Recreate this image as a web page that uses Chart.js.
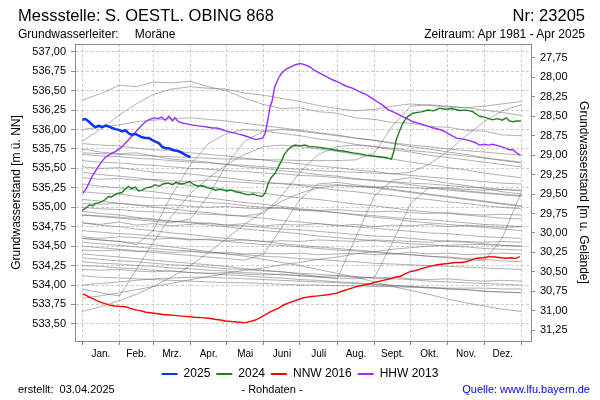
<!DOCTYPE html>
<html>
<head>
<meta charset="utf-8">
<script src="https://cdn.jsdelivr.net/npm/chart.js@4"></script>
<style>
  body { margin: 0; background: #fff; }
  #wrap { position: relative; width: 600px; height: 400px; font-family: 'Liberation Sans', Arial, sans-serif; color: #000; }
  #wrap canvas { position: absolute; left: 0; top: 0; }
  .t { position: absolute; white-space: pre; line-height: 1; }
</style>
</head>
<body>
<div id="wrap">
  <canvas id="chart" width="600" height="400"></canvas>
  <div class="t" style="left:18px;top:7px;font-size:16.5px">Messstelle: S. OESTL. OBING 868</div>
  <div class="t" style="right:15px;top:7px;font-size:16.5px">Nr: 23205</div>
  <div class="t" style="left:18px;top:28px;font-size:12px">Grundwasserleiter:<span style="padding-left:16px">Moräne</span></div>
  <div class="t" style="right:15px;top:28px;font-size:12px">Zeitraum: Apr 1981 - Apr 2025</div>
  <div class="t" style="left:18px;top:384px;font-size:11px">erstellt:  03.04.2025</div>
  <div class="t" style="left:0;width:544px;text-align:center;top:384px;font-size:11px">- Rohdaten -</div>
  <div class="t" style="right:10px;top:384px;font-size:11px;color:#0000ff">Quelle: www.lfu.bayern.de</div>
</div>
<script>
// month labels and month boundaries (day of year)
const monthNames = ['Jan.', 'Feb.', 'Mrz.', 'Apr.', 'Mai', 'Juni', 'Juli', 'Aug.', 'Sept.', 'Okt.', 'Nov.', 'Dez.'];
const monthStarts = [0, 31, 59, 90, 120, 151, 181, 212, 243, 273, 304, 334, 365];

// ground level (m ü. NN) for the right axis
const groundLevel = 564.67;

// 2025 (blue)
const days2025 = [0, 2.7, 5.5, 8.3, 11, 13.8, 16.6, 19.3, 22, 24.9, 27.6, 30.4, 33.2, 35.9, 38.7, 41.5, 44.2, 47, 49.8, 52.5, 55.3, 58, 60.8, 63.6, 66.4, 69.1, 71.9, 74.7, 77.4, 80.2, 83, 85.7, 89.9];
const values2025 = [536.125, 536.134, 536.103, 536.06, 536.03, 536.05, 536.03, 536.05, 536.04, 536.02, 536.005, 535.996, 535.975, 535.99, 535.95, 535.93, 535.945, 535.92, 535.90, 535.89, 535.89, 535.867, 535.845, 535.825, 535.78, 535.76, 535.76, 535.74, 535.73, 535.72, 535.70, 535.675, 535.645];

// 2024 (green)
const days2024 = [0, 3, 6, 9, 11, 14, 17, 19.3, 21.8, 24, 27, 30, 33, 36, 38.4, 41, 44, 47, 49.8, 53, 57, 60.8, 64, 67, 71.6, 75, 78, 82, 85.7, 89, 93, 96.5, 100, 104, 108, 110.6, 115, 120, 124, 127.2, 131, 135, 138, 142, 146, 149.3, 152, 154.6, 157, 160.4, 163, 166, 168, 171, 174, 177, 181, 185, 189, 192, 197, 202, 208.5, 213, 218, 225, 230, 236, 241.6, 247, 252, 257, 259, 261, 264, 266.5, 270, 274.7, 279, 283, 287, 292, 297, 302, 307, 314, 319, 324.6, 328, 330.4, 334, 338, 341, 345, 349, 352.5, 355, 358, 361, 364.5];
const values2024 = [534.96, 534.99, 535.03, 535.02, 535.05, 535.06, 535.08, 535.10, 535.14, 535.13, 535.16, 535.18, 535.19, 535.24, 535.27, 535.24, 535.26, 535.21, 535.22, 535.25, 535.26, 535.29, 535.27, 535.30, 535.31, 535.29, 535.32, 535.30, 535.31, 535.33, 535.29, 535.27, 535.28, 535.25, 535.24, 535.22, 535.23, 535.21, 535.22, 535.20, 535.19, 535.17, 535.16, 535.17, 535.15, 535.14, 535.18, 535.31, 535.38, 535.44, 535.52, 535.61, 535.68, 535.74, 535.78, 535.80, 535.79, 535.80, 535.78, 535.78, 535.77, 535.76, 535.74, 535.73, 535.72, 535.70, 535.69, 535.67, 535.66, 535.65, 535.64, 535.62, 535.72, 535.87, 535.99, 536.08, 536.16, 536.21, 536.22, 536.23, 536.25, 536.24, 536.275, 536.26, 536.27, 536.245, 536.25, 536.23, 536.19, 536.17, 536.16, 536.14, 536.125, 536.14, 536.12, 536.15, 536.11, 536.10, 536.11, 536.11];

// NNW 2016 (red)
const daysNNW = [0.5, 4, 8, 11, 15, 19, 22, 27, 31, 36, 40, 44, 48, 53, 58, 63, 67, 72, 77, 83, 88, 93, 99, 105, 110, 115, 119, 124, 128, 132, 135.5, 139, 144, 148, 152, 157, 163, 167, 171, 177, 182.5, 189, 196, 204, 211.5, 216, 222, 228, 234, 240, 244.7, 250, 256, 260, 264, 268, 272, 278, 284, 289, 295, 300, 305.5, 310, 315, 319, 323, 327.6, 333, 338.6, 343, 348, 352.5, 357, 360, 363.6];
const valuesNNW = [533.885, 533.86, 533.83, 533.81, 533.78, 533.76, 533.745, 533.73, 533.725, 533.72, 533.70, 533.68, 533.67, 533.65, 533.64, 533.63, 533.62, 533.615, 533.61, 533.60, 533.593, 533.585, 533.58, 533.573, 533.56, 533.55, 533.538, 533.53, 533.525, 533.52, 533.516, 533.53, 533.55, 533.58, 533.615, 533.66, 533.70, 533.74, 533.766, 533.80, 533.83, 533.85, 533.86, 533.875, 533.895, 533.92, 533.95, 533.98, 534.00, 534.02, 534.04, 534.06, 534.08, 534.10, 534.11, 534.14, 534.17, 534.19, 534.22, 534.24, 534.26, 534.27, 534.28, 534.29, 534.29, 534.30, 534.32, 534.345, 534.35, 534.365, 534.36, 534.35, 534.345, 534.35, 534.34, 534.365];

// HHW 2013 (purple)
const daysHHW = [0.5, 4, 8, 12, 16, 19, 24, 28, 33, 38, 44, 48, 52.5, 56, 60, 63, 66, 69, 72, 75, 77, 80, 84, 88, 91, 95, 100, 105, 108, 112, 116, 120, 125, 130, 133, 137, 141, 144, 147, 150, 152, 154, 156, 158, 160, 163, 166, 169, 171, 174, 176.5, 179, 181, 183.5, 187, 190, 192, 197, 203, 208, 214, 219, 225, 230, 236, 240, 245, 250, 254, 258, 262, 266, 270, 275, 280, 286, 292, 297, 302, 306, 311, 315, 319, 323, 327, 330, 334, 338, 341, 344, 348, 352, 355, 358, 361, 364];
const valuesHHW = [535.18, 535.26, 535.39, 535.49, 535.58, 535.64, 535.69, 535.72, 535.78, 535.86, 535.96, 536.03, 536.10, 536.13, 536.15, 536.14, 536.16, 536.12, 536.17, 536.11, 536.15, 536.10, 536.08, 536.07, 536.06, 536.05, 536.04, 536.03, 536.02, 536.02, 536.00, 535.98, 535.96, 535.94, 535.93, 535.91, 535.89, 535.87, 535.88, 535.89, 535.95, 536.10, 536.28, 536.38, 536.55, 536.66, 536.73, 536.77, 536.79, 536.81, 536.83, 536.84, 536.85, 536.84, 536.82, 536.80, 536.77, 536.73, 536.68, 536.64, 536.60, 536.56, 536.53, 536.49, 536.45, 536.41, 536.36, 536.31, 536.26, 536.23, 536.20, 536.17, 536.14, 536.10, 536.08, 536.05, 536.02, 536.00, 535.97, 535.93, 535.89, 535.88, 535.87, 535.85, 535.83, 535.80, 535.81, 535.80, 535.81, 535.80, 535.78, 535.76, 535.74, 535.74, 535.70, 535.67];

// other years of the record (grey), sampled about every half month
const grayDays = [0, 15, 31, 45, 59, 74, 90, 105, 120, 135, 151, 166, 181, 196, 212, 227, 243, 258, 273, 288, 304, 319, 334, 349, 365];
const grayYears = [
  [536.38, 536.46, 536.57, 536.55, 536.61, 536.60, 536.62, 536.55, 536.50, 536.40, 536.32, 536.27, 536.28, 536.23, 536.21, 536.15, 536.13, 536.09, 536.08, 536.04, 536.03, 535.99, 535.98, 535.93, 535.92],
  [535.85, 536.00, 536.19, 536.33, 536.45, 536.52, 536.55, 536.53, 536.52, 536.47, 536.44, 536.40, 536.36, 536.31, 536.27, 536.24, 536.26, 536.30, 536.33, 536.31, 536.29, 536.28, 536.30, 536.33, 536.36],
  [536.00, 536.03, 536.06, 536.10, 536.12, 536.14, 536.15, 536.13, 536.11, 536.08, 536.05, 536.02, 535.99, 535.96, 535.93, 535.89, 535.86, 535.82, 535.78, 535.75, 535.71, 535.68, 535.64, 535.60, 535.57],
  [535.82, 535.80, 535.79, 535.76, 535.74, 535.73, 535.70, 535.68, 535.66, 535.63, 535.61, 535.58, 535.56, 535.53, 535.51, 535.48, 535.46, 535.43, 535.41, 535.39, 535.37, 535.35, 535.33, 535.31, 535.30],
  [535.75, 535.71, 535.69, 535.70, 535.66, 535.62, 535.60, 535.58, 535.55, 535.52, 535.50, 535.47, 535.45, 535.42, 535.40, 535.37, 535.34, 535.32, 535.29, 535.26, 535.24, 535.21, 535.19, 535.17, 535.15],
  [535.68, 535.66, 535.65, 535.63, 535.62, 535.60, 535.58, 535.57, 535.55, 535.54, 535.52, 535.50, 535.49, 535.47, 535.46, 535.45, 535.44, 535.43, 535.45, 535.55, 535.72, 535.92, 536.10, 536.24, 536.32],
  [535.60, 535.58, 535.57, 535.55, 535.54, 535.52, 535.50, 535.49, 535.47, 535.46, 535.44, 535.43, 535.41, 535.40, 535.38, 535.36, 535.35, 535.33, 535.31, 535.30, 535.28, 535.26, 535.25, 535.23, 535.22],
  [535.52, 535.50, 535.51, 535.48, 535.45, 535.44, 535.43, 535.40, 535.38, 535.35, 535.33, 535.30, 535.28, 535.25, 535.22, 535.20, 535.17, 535.15, 535.12, 535.10, 535.07, 535.05, 535.02, 535.00, 534.98],
  [535.45, 535.42, 535.40, 535.38, 535.35, 535.31, 535.28, 535.26, 535.23, 535.20, 535.18, 535.15, 535.12, 535.10, 535.07, 535.04, 535.02, 534.99, 534.96, 534.94, 534.92, 534.90, 534.88, 534.86, 534.85],
  [535.38, 535.36, 535.37, 535.35, 535.36, 535.34, 535.33, 535.35, 535.33, 535.32, 535.30, 535.31, 535.29, 535.28, 535.29, 535.27, 535.26, 535.27, 535.25, 535.24, 535.25, 535.23, 535.22, 535.23, 535.21],
  [535.30, 535.27, 535.25, 535.22, 535.20, 535.17, 535.14, 535.12, 535.09, 535.06, 535.04, 535.01, 534.98, 534.96, 534.93, 534.90, 534.87, 534.85, 534.82, 534.80, 534.78, 534.76, 534.74, 534.72, 534.70],
  [535.20, 535.18, 535.17, 535.14, 535.12, 535.11, 535.08, 535.06, 535.05, 535.02, 535.00, 534.99, 534.96, 534.95, 534.93, 534.91, 534.89, 534.87, 534.85, 534.84, 534.82, 534.80, 534.78, 534.77, 534.75],
  [535.10, 535.08, 535.05, 535.03, 535.00, 534.98, 534.95, 534.93, 534.90, 534.88, 534.86, 534.83, 534.81, 534.79, 534.77, 534.75, 534.73, 534.71, 534.69, 534.67, 534.66, 534.64, 534.62, 534.61, 534.60],
  [535.05, 535.04, 535.05, 535.03, 535.02, 535.03, 535.01, 535.00, 535.01, 534.99, 534.98, 534.99, 534.97, 534.96, 534.97, 534.95, 534.94, 534.95, 534.93, 534.92, 534.93, 534.91, 534.90, 534.91, 534.90],
  [534.95, 534.92, 534.90, 534.87, 534.85, 534.82, 534.80, 534.77, 534.75, 534.72, 534.70, 534.68, 534.66, 534.63, 534.61, 534.59, 534.57, 534.55, 534.53, 534.52, 534.50, 534.49, 534.47, 534.46, 534.45],
  [534.90, 534.89, 534.87, 534.86, 534.84, 534.82, 534.81, 534.79, 534.77, 534.76, 534.74, 534.72, 534.71, 534.69, 534.67, 534.65, 534.63, 534.62, 534.60, 534.58, 534.56, 534.55, 534.53, 534.51, 534.50],
  [534.80, 534.78, 534.81, 534.77, 534.79, 534.76, 534.78, 534.80, 534.77, 534.79, 534.76, 534.78, 534.77, 534.79, 534.76, 534.78, 534.75, 534.77, 534.76, 534.78, 534.75, 534.77, 534.76, 534.74, 534.75],
  [534.70, 534.68, 534.66, 534.65, 534.63, 534.61, 534.59, 534.58, 534.56, 534.54, 534.52, 534.51, 534.49, 534.47, 534.45, 534.44, 534.42, 534.40, 534.39, 534.37, 534.36, 534.34, 534.33, 534.31, 534.30],
  [534.62, 534.60, 534.62, 534.61, 534.59, 534.60, 534.58, 534.59, 534.57, 534.58, 534.56, 534.57, 534.56, 534.58, 534.57, 534.56, 534.58, 534.57, 534.56, 534.55, 534.57, 534.56, 534.55, 534.56, 534.55],
  [534.55, 534.53, 534.51, 534.49, 534.47, 534.45, 534.44, 534.42, 534.40, 534.39, 534.37, 534.36, 534.34, 534.33, 534.31, 534.30, 534.28, 534.27, 534.26, 534.25, 534.24, 534.23, 534.22, 534.21, 534.20],
  [534.45, 534.44, 534.45, 534.43, 534.44, 534.42, 534.43, 534.41, 534.42, 534.40, 534.41, 534.40, 534.41, 534.39, 534.40, 534.41, 534.39, 534.40, 534.42, 534.40, 534.41, 534.39, 534.40, 534.41, 534.40],
  [534.35, 534.33, 534.31, 534.30, 534.28, 534.26, 534.25, 534.23, 534.21, 534.20, 534.18, 534.17, 534.15, 534.14, 534.12, 534.11, 534.09, 534.08, 534.07, 534.05, 534.04, 534.03, 534.02, 534.01, 534.00],
  [534.20, 534.19, 534.20, 534.18, 534.17, 534.18, 534.16, 534.15, 534.16, 534.14, 534.13, 534.14, 534.12, 534.11, 534.12, 534.10, 534.09, 534.10, 534.08, 534.07, 534.08, 534.06, 534.05, 534.06, 534.05],
  [534.12, 534.10, 534.09, 534.08, 534.07, 534.06, 534.05, 534.04, 534.03, 534.03, 534.02, 534.01, 534.00, 534.00, 533.99, 533.99, 533.98, 533.98, 533.97, 533.97, 533.96, 533.96, 533.96, 533.95, 533.95],
  [534.00, 534.02, 534.04, 534.06, 534.08, 534.09, 534.10, 534.10, 534.09, 534.08, 534.07, 534.06, 534.05, 534.04, 534.03, 534.02, 534.00, 533.99, 533.98, 533.96, 533.95, 533.94, 533.92, 533.91, 533.90],
  [533.83, 533.86, 533.90, 533.94, 533.98, 534.02, 534.07, 534.11, 534.15, 534.19, 534.22, 534.26, 534.29, 534.33, 534.36, 534.40, 534.43, 534.46, 534.48, 534.50, 534.51, 534.52, 534.52, 534.51, 534.50],
  [533.66, 533.72, 533.80, 533.88, 533.98, 534.10, 534.25, 534.42, 534.60, 534.78, 534.95, 535.08, 535.18, 535.25, 535.28, 535.27, 535.25, 535.22, 535.19, 535.16, 535.13, 535.10, 535.07, 535.04, 535.01],
  [533.95, 533.90, 533.86, 534.20, 534.55, 534.88, 535.18, 535.38, 535.55, 535.68, 535.78, 535.80, 535.78, 535.75, 535.72, 535.68, 535.65, 535.62, 535.58, 535.55, 535.51, 535.48, 535.44, 535.41, 535.38],
  [534.50, 534.48, 534.46, 534.44, 534.42, 534.40, 534.38, 534.36, 534.34, 534.32, 534.40, 534.75, 535.10, 535.30, 535.32, 535.29, 535.26, 535.23, 535.20, 535.17, 535.14, 535.11, 535.08, 535.05, 535.02],
  [534.40, 534.38, 534.36, 534.34, 534.32, 534.30, 534.28, 534.26, 534.24, 534.21, 534.19, 534.17, 534.14, 534.11, 534.08, 534.60, 535.15, 535.35, 535.38, 535.35, 535.31, 535.28, 535.24, 535.20, 535.17],
  [534.30, 534.28, 534.27, 534.25, 534.24, 534.22, 534.21, 534.19, 534.18, 534.16, 534.15, 534.13, 534.12, 534.10, 534.09, 534.08, 534.10, 534.55, 535.05, 535.25, 535.22, 535.20, 535.18, 535.16, 535.14],
  [534.80, 534.77, 534.75, 534.72, 534.70, 534.67, 534.65, 534.62, 534.60, 534.58, 534.56, 534.53, 534.51, 534.49, 534.47, 534.45, 534.43, 534.41, 534.39, 534.37, 534.35, 534.33, 534.31, 534.60, 535.20],
  [534.60, 534.58, 534.56, 534.54, 534.52, 534.49, 534.46, 534.43, 534.40, 534.37, 534.33, 534.29, 534.25, 534.20, 534.15, 534.10, 534.04, 533.98, 533.93, 533.88, 533.82, 533.77, 533.73, 533.69, 533.66],
  [534.25, 534.24, 534.22, 534.21, 534.19, 534.18, 534.16, 534.15, 534.13, 534.12, 534.10, 534.09, 534.07, 534.06, 534.04, 534.03, 534.01, 534.00, 533.98, 533.97, 533.95, 533.94, 533.92, 533.91, 533.90],
  [534.60, 534.58, 534.56, 534.52, 534.70, 535.15, 535.55, 535.82, 535.95, 536.00, 535.98, 535.95, 535.92, 535.88, 535.85, 535.81, 535.78, 535.74, 535.71, 535.67, 535.64, 535.61, 535.58, 535.55, 535.52],
  [534.90, 534.88, 534.86, 534.84, 534.82, 534.80, 534.85, 535.15, 535.55, 535.85, 535.98, 536.00, 535.98, 535.95, 535.92, 535.89, 535.86, 535.83, 535.80, 535.78, 535.75, 535.73, 535.71, 535.69, 535.67],
  [535.00, 534.98, 534.97, 534.95, 534.94, 534.93, 534.92, 534.91, 534.90, 534.89, 534.92, 535.15, 535.45, 535.68, 535.78, 535.80, 535.78, 535.76, 535.73, 535.71, 535.68, 535.66, 535.63, 535.61, 535.58],
  [535.70, 535.69, 535.68, 535.67, 535.66, 535.65, 535.64, 535.63, 535.62, 535.62, 535.61, 535.61, 535.60, 535.60, 535.60, 535.61, 535.70, 536.05, 536.30, 536.32, 536.30, 536.28, 536.25, 536.22, 536.18]
];

// visible ranges (day of year / m ü. NN)
const xMin = -6, xMax = 373;
const yMin = 533.28, yMax = 537.10;

function toPoints(days, values) {
    return days.map((d, i) => ({ x: d, y: values[i] }));
}

function fmt(v) {
    return v.toFixed(2).replace('.', ',');
}

const mainSeries = [
    { label: '2025', days: days2025, values: values2025, color: '#0a35ff', width: 2.5 },
    { label: '2024', days: days2024, values: values2024, color: '#1f7f1f', width: 1.4 },
    { label: 'NNW 2016', days: daysNNW, values: valuesNNW, color: '#ff0000', width: 1.4 },
    { label: 'HHW 2013', days: daysHHW, values: valuesHHW, color: '#9a2eff', width: 1.4 }
];

const datasets = mainSeries.map(s => ({
    label: s.label,
    data: toPoints(s.days, s.values),
    borderColor: s.color,
    backgroundColor: s.color,
    borderWidth: s.width
}));

grayYears.forEach(vals => {
    datasets.push({
        label: '',
        data: toPoints(grayDays, vals),
        borderColor: 'rgba(100,100,100,0.5)',
        backgroundColor: 'rgba(100,100,100,0.5)',
        borderWidth: 1
    });
});

// top edge of the plot frame
const framePlugin = {
    id: 'frame',
    afterDraw(chart) {
        const { ctx, chartArea: a } = chart;
        ctx.save();
        ctx.strokeStyle = '#8c8c8c';
        ctx.lineWidth = 1;
        ctx.beginPath();
        ctx.moveTo(a.left, Math.round(a.top) + 0.5);
        ctx.lineTo(a.right, Math.round(a.top) + 0.5);
        ctx.stroke();
        ctx.restore();
    }
};

Chart.defaults.font.family = "'Liberation Sans', Arial, sans-serif";
Chart.defaults.color = '#000';

const gridColor = '#cccccc';
const axisColor = '#8c8c8c';

new Chart(document.getElementById('chart'), {
    type: 'line',
    data: { datasets: datasets },
    options: {
        responsive: false,
        animation: false,
        layout: { padding: { top: 44, bottom: 10, left: 0, right: 0 } },
        elements: { point: { radius: 0 }, line: { tension: 0 } },
        plugins: {
            tooltip: { enabled: false },
            legend: {
                position: 'bottom',
                labels: {
                    filter: item => item.text !== '',
                    generateLabels: chart => {
                        // thin line samples instead of outlined boxes
                        const items = Chart.defaults.plugins.legend.labels.generateLabels(chart);
                        items.forEach(it => { it.lineWidth = 0; });
                        return items;
                    },
                    boxWidth: 16,
                    boxHeight: 2,
                    padding: 6,
                    font: { size: 12 },
                    color: '#000'
                }
            }
        },
        scales: {
            x: {
                type: 'linear',
                position: 'bottom',
                weight: 0,
                min: xMin,
                max: xMax,
                afterBuildTicks: scale => { scale.ticks = monthStarts.map(v => ({ value: v })); },
                ticks: { display: false },
                grid: { color: gridColor, tickColor: axisColor, tickLength: 4 },
                border: { color: axisColor, dash: [3, 2] }
            },
            xl: {
                type: 'linear',
                position: 'bottom',
                weight: 1,
                min: xMin,
                max: xMax,
                afterBuildTicks: scale => {
                    scale.ticks = monthNames.map((m, i) => ({ value: (monthStarts[i] + monthStarts[i + 1]) / 2 }));
                },
                afterFit: scale => { scale.height = 17; },
                ticks: {
                    font: { size: 10 },
                    padding: 3,
                    maxRotation: 0,
                    autoSkip: false,
                    callback: (v, i) => monthNames[i]
                },
                grid: { display: false, drawTicks: false },
                border: { display: false }
            },
            y: {
                type: 'linear',
                position: 'left',
                min: yMin,
                max: yMax,
                afterFit: scale => { scale.width = 75; },
                ticks: { stepSize: 0.25, includeBounds: false, font: { size: 11 }, padding: 5, callback: v => fmt(v) },
                grid: { color: gridColor, tickColor: axisColor, tickLength: 4 },
                border: { color: axisColor, dash: [3, 2] },
                title: { display: true, text: 'Grundwasserstand [m ü. NN]', font: { size: 12 }, padding: { top: 9, bottom: 0 } }
            },
            y2: {
                type: 'linear',
                position: 'right',
                reverse: true,
                min: groundLevel - yMax,
                max: groundLevel - yMin,
                afterFit: scale => { scale.width = 69; },
                ticks: { stepSize: 0.25, includeBounds: false, font: { size: 11 }, padding: 5, callback: v => fmt(v) },
                grid: { drawOnChartArea: false, tickColor: axisColor, tickLength: 4 },
                border: { color: axisColor },
                title: { display: true, text: 'Grundwasserstand [m u. Gelände]', font: { size: 12 }, padding: { top: 9, bottom: 0 } }
            }
        }
    },
    plugins: [framePlugin]
});
</script>
</body>
</html>
